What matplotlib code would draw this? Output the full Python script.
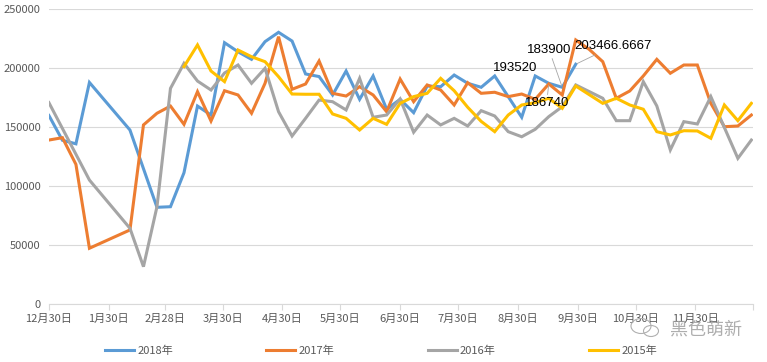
import matplotlib

matplotlib.use("Agg")
import matplotlib.pyplot as plt  # noqa: E402
from matplotlib.patches import Ellipse  # noqa: E402

# weekly points: week index k -> day 7*k after Dec 30
weeks_2018 = [0, 1, 2, 3, 6, 8, 9, 10, 11, 12, 13, 14, 15, 16, 17, 18, 19, 20, 21, 22, 23, 24, 25,
              26, 27, 28, 29, 30, 31, 32, 33, 34, 35, 36, 37, 38, 39]
vals_2018 = [160000, 139000, 136000, 188000, 147700, 82200, 82700, 111500, 168000, 160400, 221700,
             214000, 207600, 222600, 230500, 223100, 195200, 193000, 177400, 197700, 173700, 193500,
             165300, 173700, 162400, 185000, 184400, 194300, 187300, 183900, 193520, 176000, 158500,
             193500, 187300, 183900, 203466.6667]

weeks_2017 = [0, 1, 2, 3, 6, 7, 8, 9, 10, 11, 12, 13, 14, 15, 16, 17, 18, 19, 20, 21, 22, 23, 24,
              25, 26, 27, 28, 29, 30, 31, 32, 33, 34, 35, 36, 37, 38, 39, 40, 41, 42, 43, 44, 45,
              46, 47, 48, 49, 50, 51, 52]
vals_2017 = [139200, 141200, 118600, 47500, 63000, 152000, 161900, 168000, 152500, 180200, 155300,
             181000, 177400, 161900, 187300, 226800, 182200, 186700, 206200, 178800, 176500, 184400,
             177400, 163200, 190900, 171700, 185900, 181600, 168900, 187800, 178800, 179700, 176000,
             178200, 173700, 186740, 177400, 224000, 216000, 205600, 174600, 180800, 193500, 207600,
             195800, 202800, 202800, 170300, 150500, 151100, 160400]

weeks_2016 = [0, 3, 6, 7, 8, 9, 10, 11, 12, 13, 14, 15, 16, 17, 18, 19, 20, 21, 22, 23, 24, 25, 26,
              27, 28, 29, 30, 31, 32, 33, 34, 35, 36, 37, 38, 39, 41, 42, 43, 44, 45, 46, 47, 48,
              49, 51, 52]
vals_2016 = [170900, 105300, 64400, 31900, 82700, 183000, 204200, 189200, 181600, 196000, 202800,
             187300, 200000, 163200, 142600, 157600, 173100, 171700, 164700, 191500, 158500, 160400,
             174000, 145800, 160400, 152000, 157600, 151100, 164100, 159600, 146300, 142000, 148300,
             159000, 167500, 185900, 174600, 155600, 155600, 188700, 168100, 130800, 154800, 152800,
             176000, 123700, 139200]

weeks_2015 = [10, 11, 12, 13, 14, 15, 16, 17, 18, 19, 20, 21, 22, 23, 24, 25, 26, 27, 28, 29, 30,
              31, 32, 33, 34, 35, 36, 37, 38, 39, 41, 42, 43, 44, 45, 46, 47, 48, 49, 50, 51, 52]
vals_2015 = [201400, 219800, 197700, 188700, 215500, 209800, 205600, 192900, 178200, 178000, 178000,
             161300, 157600, 147700, 157600, 152500, 170300, 176000, 178800, 191500, 181000, 167000,
             155000, 146300, 160400, 168900, 170900, 174600, 166100, 185000, 170300, 174600, 168900,
             165300, 146300, 143500, 147100, 146900, 140700, 168900, 155600, 170300]

tick_days = [0, 31, 60, 90, 121, 151, 182, 212, 243, 274, 304, 335, 365]
tick_labels = ["12月30日", "1月30日", "2月28日", "3月30日", "4月30日", "5月30日", "6月30日",
               "7月30日", "8月30日", "9月30日", "10月30日", "11月30日", ""]

series = [
    ("2018年", weeks_2018, vals_2018, "#5B9BD5"),
    ("2017年", weeks_2017, vals_2017, "#ED7D31"),
    ("2016年", weeks_2016, vals_2016, "#A5A5A5"),
    ("2015年", weeks_2015, vals_2015, "#FFC000"),
]

plt.rcParams["font.family"] = ["Noto Sans CJK SC", "DejaVu Sans"]

fig = plt.figure(figsize=(7.67, 3.62), dpi=100)
ax = fig.add_axes([48.9 / 767, 57.7 / 362, (753.3 - 48.9) / 767, 295 / 362])

for name, weeks, vals, color in series:
    ax.plot([7 * k for k in weeks], vals, color=color, lw=2.2, label=name,
            solid_joinstyle="miter", zorder=3)

# data labels
label_font = dict(family="Liberation Sans", fontsize=9.5, color="black")
leader = dict(arrowstyle="-", color="#a6a6a6", lw=0.6, shrinkA=0, shrinkB=1)


def label(week, value, text, offset, arrow=True):
    ax.annotate(text, (7 * week, value), xytext=offset, textcoords="offset points",
                ha="center", va="center", arrowprops=leader if arrow else None,
                zorder=5, **label_font)


label(33, vals_2018[weeks_2018.index(33)], "193520", (15, 6), arrow=False)
label(38, vals_2018[weeks_2018.index(38)], "183900", (-9.5, 27))
label(39, vals_2018[weeks_2018.index(39)], "203466.6667", (27, 13))
label(37, vals_2017[weeks_2017.index(37)], "186740", (-1.5, -14))

ax.set_xlim(0, 365)
ax.set_ylim(0, 250000)
ax.set_yticks(range(0, 250001, 50000))
ax.yaxis.grid(True, color="#d9d9d9", lw=0.8)
ax.set_axisbelow(True)
ax.set_xticks(tick_days)
ax.set_xticklabels(tick_labels)
ax.tick_params(axis="x", colors="#595959", labelsize=8, length=4, width=0.8,
               color="#d9d9d9", pad=3)
ax.tick_params(axis="y", colors="#595959", labelsize=8, length=0, pad=6)
for side in ("top", "right", "left"):
    ax.spines[side].set_visible(False)
ax.spines["bottom"].set_color("#d9d9d9")
ax.spines["bottom"].set_linewidth(0.8)

fig.legend(loc="center", bbox_to_anchor=(0.497, 11 / 362), ncol=4, frameon=False,
           fontsize=8, handlelength=2.6, handletextpad=0.3, columnspacing=8.4,
           labelcolor="#595959")

# watermark (wechat bubbles + account name)
for cx, cy, w, h in [(641, 326, 20, 15), (651, 331, 15, 11)]:
    fig.patches.append(Ellipse((cx / 767, 1 - cy / 362), w / 767, h / 362,
                               transform=fig.transFigure, fill=False,
                               edgecolor="#b0b0b0", lw=0.8))
fig.text(706 / 767, 1 - 330 / 362, "黑色萌新", fontsize=13, color="#9a9a9a",
         ha="center", va="center", alpha=0.8)

fig.savefig("out.png", dpi=100)
